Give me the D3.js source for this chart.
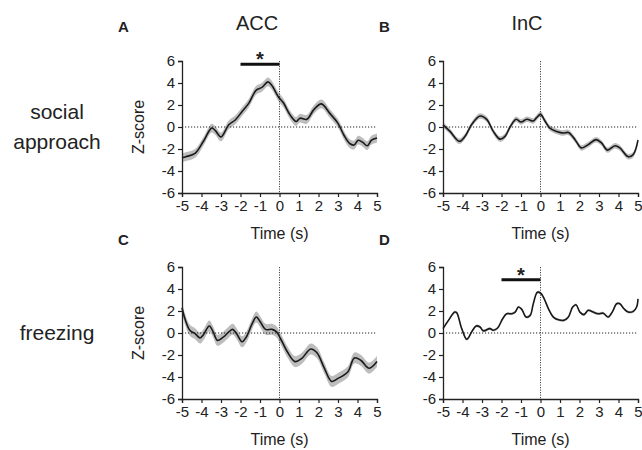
<!DOCTYPE html>
<html><head><meta charset="utf-8">
<script src="https://cdn.jsdelivr.net/npm/d3@7"></script>
<style>body{margin:0;background:#fff}svg{display:block}text{font-family:"Liberation Sans",Arial,sans-serif;fill:#222}</style>
</head><body><svg id="c" width="642" height="450"></svg>
<script>
// ---- data ----
const xTicks = [-5,-4,-3,-2,-1,0,1,2,3,4,5];
const yTicks = [-6,-4,-2,0,2,4,6];
const regions = ["ACC","InC"];
const behaviours = ["social\napproach","freezing"];
const panelLetters = ["A","B","C","D"];

const tA = [-5,-4.8,-4.33,-3.9,-3.48,-3.3,-3.0,-2.6,-2.27,-1.92,-1.58,-1.19,-0.9,-0.6,-0.4,-0.06,0.2,0.54,0.85,1.05,1.4,1.77,2.15,2.58,3.0,3.3,3.6,3.82,4.04,4.27,4.5,4.72,5];
const vA = [-2.8,-2.7,-2.4,-1.3,-0.1,-0.3,-0.9,0.2,0.64,1.4,2.15,3.36,3.6,4.1,3.8,2.75,2.2,1.1,0.5,0.8,0.7,1.6,2.1,1.24,0.33,-0.73,-1.5,-1.64,-1.2,-1.4,-1.7,-1.2,-1.0];

const tB = [-5,-4.64,-4.16,-3.87,-3.53,-3.1,-2.76,-2.42,-2.08,-1.82,-1.56,-1.25,-1.0,-0.7,-0.37,-0.2,0,0.23,0.48,0.83,1.17,1.43,1.77,2.1,2.45,2.85,3.13,3.43,3.82,4.07,4.5,4.76,5];
const vB = [0.2,-0.4,-1.3,-0.85,0.23,1.0,0.7,-0.4,-1.1,-0.85,0.0,0.7,0.45,0.7,0.55,0.85,1.15,0.55,-0.1,-0.4,-0.55,-0.5,-1.15,-1.9,-1.6,-1.15,-1.45,-2.1,-1.7,-1.9,-2.7,-2.5,-1.2];

const tC = [-5,-4.85,-4.6,-4.33,-4.07,-3.9,-3.6,-3.4,-3.18,-2.87,-2.6,-2.4,-2.2,-1.92,-1.7,-1.4,-1.19,-0.98,-0.72,-0.38,-0.15,0.05,0.4,0.8,1.15,1.6,1.92,2.3,2.67,2.98,3.5,3.84,4.18,4.6,5];
const vC = [2.3,1.3,0.25,-0.06,-0.45,-0.15,0.64,0.1,-0.67,-0.36,0.1,0.33,-0.06,-0.8,-0.36,0.85,1.45,1.0,0.33,0.33,0.1,-0.5,-1.7,-2.6,-2.3,-1.45,-1.8,-3.2,-4.4,-4.15,-3.55,-2.27,-2.5,-3.2,-2.6];

const tD = [-5,-4.72,-4.4,-4.3,-4.04,-3.78,-3.53,-3.3,-3.1,-2.93,-2.6,-2.42,-2.2,-1.94,-1.73,-1.47,-1.3,-1.13,-0.96,-0.74,-0.53,-0.37,-0.16,0.02,0.19,0.41,0.66,0.92,1.2,1.43,1.65,1.82,2.02,2.23,2.45,2.7,2.96,3.22,3.47,3.7,3.9,4.07,4.28,4.5,4.76,4.93,5];
const vD = [0.4,1.15,1.9,1.85,0.4,-0.57,0.1,0.64,0.55,0.2,0.4,0.25,0.45,1.3,1.75,1.75,1.9,2.36,2.15,1.45,1.6,2.66,3.7,3.6,3.1,2.2,1.45,1.2,1.15,1.45,2.36,2.57,1.9,1.67,2.06,1.9,1.75,1.8,1.45,1.97,2.66,2.66,2.2,1.9,1.97,2.36,3.1];

const semValues = [0.4, 0.25, 0.5, 0.12];
// significance bars: [start, end, level] or null
const sigBars = [[-2, 0, 5.7], null, null, [-2, 0, 4.85]];

// ---- layout ----
const svg = d3.select("#c");
const colLeft = [182, 443], panelW = 195;
const rowTop = [61, 267], panelH = 132;
const letterY = [32, 245];
const titleX = [257, 527];
const series = [[tA,vA],[tB,vB],[tC,vC],[tD,vD]];

series.forEach(([t, v], i) => {
  const r = Math.floor(i / 2), c = i % 2;
  const x = d3.scaleLinear().domain([-5, 5]).range([colLeft[c], colLeft[c] + panelW]);
  const y = d3.scaleLinear().domain([-6, 6]).range([rowTop[r] + panelH, rowTop[r]]);
  const g = svg.append("g");
  const pts = t.map((tt, k) => ({t: tt, v: v[k]}));
  const sem = semValues[i];

  // band
  g.append("path").datum(pts)
    .attr("d", d3.area().curve(d3.curveCatmullRom).x(d => x(d.t)).y0(d => y(d.v - sem)).y1(d => y(d.v + sem)))
    .attr("fill", "#bdbdbd");
  // zero line
  g.append("line").attr("x1", x(-5)).attr("x2", x(5)).attr("y1", y(0)).attr("y2", y(0))
    .attr("stroke", "#222").attr("stroke-width", 1).attr("stroke-dasharray", "1.2,1.8");
  g.append("line").attr("x1", x(0)).attr("x2", x(0)).attr("y1", y(6)).attr("y2", y(-6))
    .attr("stroke", "#444").attr("stroke-width", 1).attr("stroke-dasharray", "1.2,1.3");
  // line
  g.append("path").datum(pts)
    .attr("d", d3.line().curve(d3.curveCatmullRom).x(d => x(d.t)).y(d => y(d.v)))
    .attr("fill", "none").attr("stroke", "#1a1a1a").attr("stroke-width", 1.6);

  // axes
  const ax = g.append("g").attr("transform", `translate(0,${y(-6)})`)
    .call(d3.axisBottom(x).tickValues(xTicks).tickSize(4).tickPadding(3).tickFormat(d3.format("d")));
  const ay = g.append("g").attr("transform", `translate(${x(-5)},0)`)
    .call(d3.axisLeft(y).tickValues(yTicks).tickSize(4).tickPadding(3).tickFormat(d3.format("d")));
  [ax, ay].forEach(a => {
    a.select(".domain").attr("stroke", "#222").attr("stroke-width", 1.3);
    a.selectAll(".tick line").attr("stroke", "#222").attr("stroke-width", 1.2);
    a.selectAll(".tick text").style("font-size", "15px").style("font-family", "'Liberation Sans',Arial,sans-serif").attr("fill", "#222");
  });
  ax.selectAll(".tick text").text(d => d < 0 ? "-" + Math.abs(d) : d);
  ay.selectAll(".tick text").text(d => d < 0 ? "-" + Math.abs(d) : d);

  g.append("text").attr("x", x(0)).attr("y", y(-6) + 46).attr("text-anchor", "middle")
    .style("font-size", "16px").text("Time (s)");
  if (c === 0) {
    g.append("text").attr("transform", `translate(${x(-5) - 44},${y(0)}) rotate(-90)`)
      .attr("text-anchor", "middle").attr("dy", "0.35em").style("font-size", "16px").text("Z-score");
  }
  // panel letter
  g.append("text").attr("x", colLeft[c] - 64).attr("y", letterY[r])
    .style("font-size", "15px").style("font-weight", "bold").text(panelLetters[i]);

  // sig bar
  const sb = sigBars[i];
  if (sb) {
    g.append("line").attr("x1", x(sb[0])).attr("x2", x(sb[1])).attr("y1", y(sb[2])).attr("y2", y(sb[2]))
      .attr("stroke", "#111").attr("stroke-width", 3);
    g.append("text").attr("x", x((sb[0] + sb[1]) / 2)).attr("y", y(sb[2]) + 2)
      .attr("text-anchor", "middle").style("font-size", "20px").style("font-weight", "bold").text("*");
  }
});

// column titles
regions.forEach((name, c) => {
  svg.append("text").attr("x", titleX[c]).attr("y", 30).attr("text-anchor", "middle")
    .style("font-size", "20px").text(name);
});
// row labels
behaviours.forEach((name, r) => {
  const lines = name.split("\n");
  const cy = rowTop[r] + panelH / 2;
  lines.forEach((ln, k) => {
    svg.append("text").attr("x", 57).attr("y", cy + (k - (lines.length - 1) / 2) * 30)
      .attr("dy", "0.35em").attr("text-anchor", "middle").style("font-size", "21px").text(ln);
  });
});
</script></body></html>
